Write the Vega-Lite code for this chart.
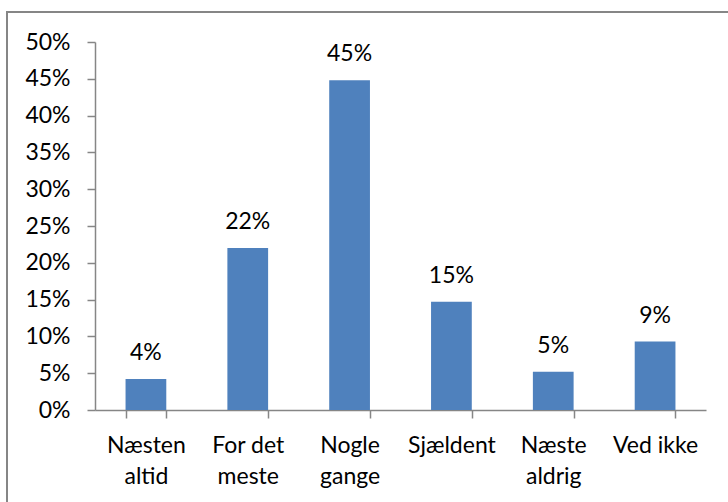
{
  "$schema": "https://vega.github.io/schema/vega-lite/v6.json",
  "autosize": "none",
  "width": 740,
  "height": 510,
  "padding": {"left": 7, "top": 12, "right": 0, "bottom": 0},
  "background": "white",
  "config": {
    "view": {"stroke": "#868686", "strokeWidth": 2},
    "font": "Lato",
    "axis": {"labelFont": "Lato", "labelFontSize": 23, "labelColor": "#000000", "domainColor": "#868686", "tickColor": "#868686", "domainWidth": 1.5, "tickWidth": 1.5, "grid": false, "title": null}
  },
  "data": {
    "values": [
      {"label": "Næsten\naltid", "value": 0.042},
      {"label": "For det\nmeste", "value": 0.22},
      {"label": "Nogle\ngange", "value": 0.448},
      {"label": "Sjældent", "value": 0.147},
      {"label": "Næste\naldrig", "value": 0.052},
      {"label": "Ved ikke", "value": 0.093}
    ]
  },
  "encoding": {
    "x": {
      "field": "label",
      "type": "nominal",
      "sort": null,
      "scale": {"range": [88, 699], "paddingInner": 0.6, "paddingOuter": 0.3},
      "axis": {
        "offset": -112,
        "labelAngle": 0,
        "labelExpr": "split(datum.label, '\\n')",
        "labelLineHeight": 31,
        "labelPadding": 16,
        "labelBaseline": "top",
        "tickBand": "extent",
        "tickSize": 8
      }
    },
    "y": {
      "field": "value",
      "type": "quantitative",
      "scale": {"domain": [0, 0.5], "range": [398, 30], "nice": false},
      "axis": {
        "offset": -88,
        "values": [0, 0.05, 0.1, 0.15, 0.2, 0.25, 0.3, 0.35, 0.4, 0.45, 0.5],
        "format": ".0%",
        "tickSize": 8,
        "labelPadding": 17
      }
    }
  },
  "layer": [
    {"mark": {"type": "bar", "color": "#4F81BD"}},
    {
      "mark": {"type": "text", "fontSize": 23, "font": "Lato", "color": "#000000", "baseline": "alphabetic", "dy": -19},
      "encoding": {"text": {"field": "value", "type": "quantitative", "format": ".0%"}}
    }
  ]
}
